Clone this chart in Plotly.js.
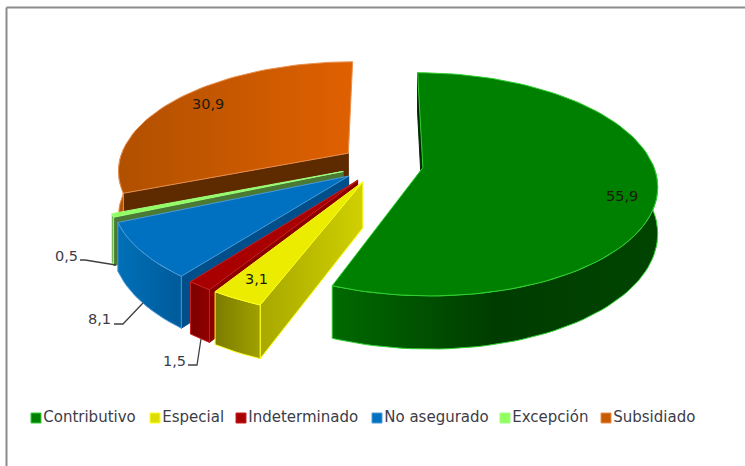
<!DOCTYPE html>
<html>
<head>
<meta charset="utf-8">
<script src="https://cdn.plot.ly/plotly-3.0.1.min.js"></script>
<style>html,body{margin:0;padding:0;background:#fff}#chart{width:745px;height:466px}</style>
</head>
<body>
<div id="chart"></div>
<script>
// Data
var categories = ['Contributivo', 'Especial', 'Indeterminado', 'No asegurado', 'Excepción', 'Subsidiado'];
var values = [55.9, 3.1, 1.5, 8.1, 0.5, 30.9];

// Styles, one entry per category
var topColors = ['#008000', '#ecec00', '#a80000', '#0070c0', '#90ff60', ['#b05000', '#e06000']];
var edgeColors = ['#30d030', '#ffff20', '#c82020', '#4a9ad8', '#a0ff80', '#e89050'];
var arcWallColors = [['#006a00', '#003c00', '#004400'], ['#7c7c00', '#a0a000'], ['#7c0000', '#900000'], ['#0070b8', '#005a9a'], ['#4a8030', '#4a8030'], ['#b85400', '#b85400']];
var sideWallColors = ['#002800', ['#a8a800', '#d0d000'], '#8c0000', '#004f8a', '#4a7a34', '#5e2a00'];
var legendMarkers = ['#008000', '#dcdc00', '#a80000', '#0070c0', '#90ff60', '#c85a00'];

// Key placement along the bottom row, in page pixels
var keyX = [36, 155, 241, 377, 505, 606];
var keyY = 418;

// Label placement, in page pixels
var labelPos = [[622, 196], [256, 279], [174, 361], [99, 319], [66, 256], [208, 104]];
var leaders = [null, null,
  [[188, 197, 201], [365, 365, 339]],
  [[114, 123, 143], [324, 324, 303]],
  [[80, 85, 116], [260, 260, 265]],
  null];

// 3D pie projection
var cam = {px: 382, py: 164, c: 230, a: 108, b: 0.149, h: 45, explode: 0.18};
function project(X, Z, down) {
  var w = 1 / (1 - cam.b * Z);
  return [cam.px + cam.c * X * w, cam.py + cam.a * Z * w + (down ? cam.h * w : 0)];
}
function rad(d) { return d * Math.PI / 180; }

var total = values.reduce(function (s, v) { return s + v; }, 0);
var slices = [], acc = 0;
values.forEach(function (v, i) {
  var start = acc / total * 360, end = (acc + v) / total * 360, mid = (start + end) / 2;
  acc += v;
  slices.push({i: i, start: start, end: end,
    ox: cam.explode * Math.sin(rad(mid)), oz: -cam.explode * Math.cos(rad(mid))});
});
function rim(s, deg, down) {
  return project(s.ox + Math.sin(rad(deg)), s.oz - Math.cos(rad(deg)), down);
}
function apex(s, down) { return project(s.ox, s.oz, down); }

function poly(points, line, fill) {
  var t = {type: 'scatter', mode: 'lines', fill: 'toself', showlegend: false, hoverinfo: 'skip',
    x: points.map(function (p) { return p[0]; }), y: points.map(function (p) { return p[1]; }),
    line: {color: line, width: 1}, cliponaxis: false};
  if (Array.isArray(fill)) {
    t.fillgradient = {type: 'horizontal', colorscale: fill.map(function (c, k) { return [k / (fill.length - 1), c]; })};
  } else { t.fillcolor = fill; }
  return t;
}

var traces = [];
[5, 4, 3, 2, 1, 0].forEach(function (i) {
  var s = slices[i], edge = edgeColors[i], side = sideWallColors[i];
  // wall along the start radius
  var a = apex(s, false), r0 = rim(s, s.start, false), r0d = rim(s, s.start, true), ad = apex(s, true);
  traces.push(poly([a, r0, r0d, ad, a], Array.isArray(side) ? edge : side, side));
  // wall along the front of the arc
  var from = Math.max(s.start, 88), to = Math.min(s.end, 272);
  if (to > from) {
    var upper = [], lower = [];
    for (var d = from; d < to; d += 2) { upper.push(rim(s, d, false)); lower.unshift(rim(s, d, true)); }
    upper.push(rim(s, to, false)); lower.unshift(rim(s, to, true));
    var wall = upper.concat(lower); wall.push(upper[0]);
    traces.push(poly(wall, edge, arcWallColors[i]));
  }
  // top face
  var face = [apex(s, false)];
  for (var e = s.start; e < s.end; e += 2) { face.push(rim(s, e, false)); }
  face.push(rim(s, s.end, false)); face.push(apex(s, false));
  traces.push(poly(face, edge, topColors[i]));
});

// Leader lines
leaders.forEach(function (l) {
  if (l) traces.push({type: 'scatter', mode: 'lines', x: l[0], y: l[1], showlegend: false, hoverinfo: 'skip',
    line: {color: '#404040', width: 1.3}});
});

// Key row: a square and its category name, set tight as in the picture
categories.forEach(function (c, i) {
  traces.push({type: 'scatter', mode: 'markers+text', name: c, x: [keyX[i]], y: [keyY], text: [c],
    textposition: 'middle right', showlegend: false, hoverinfo: 'name',
    textfont: {family: 'DejaVu Sans', size: 15, color: '#3c3c48'},
    marker: {symbol: 'square', size: 10, color: legendMarkers[i], line: {color: edgeColors[i], width: 1}}});
});

var annotations = values.map(function (v, i) {
  return {xref: 'x', yref: 'y', x: labelPos[i][0], y: labelPos[i][1], text: String(v).replace('.', ','),
    showarrow: false, font: {family: 'DejaVu Sans', size: 14.5, color: (i === 0 || i === 1 || i === 5) ? '#1c1c10' : '#3c3c48'}};
});

var layout = {
  width: 745, height: 466, margin: {l: 0, r: 0, t: 0, b: 0}, paper_bgcolor: '#fff', plot_bgcolor: '#fff',
  showlegend: false,
  xaxis: {range: [0, 745], visible: false, fixedrange: true},
  yaxis: {range: [466, 0], visible: false, fixedrange: true},
  annotations: annotations,
  shapes: [
    {type: 'line', xref: 'x', yref: 'y', x0: 6.5, x1: 6.5, y0: 7.5, y1: 466, line: {color: '#8c8c8c', width: 2}},
    {type: 'line', xref: 'x', yref: 'y', x0: 6.5, x1: 745, y0: 7.5, y1: 7.5, line: {color: '#8c8c8c', width: 2}}
  ]
};

Plotly.newPlot('chart', traces, layout, {displayModeBar: false});
</script>
</body>
</html>
